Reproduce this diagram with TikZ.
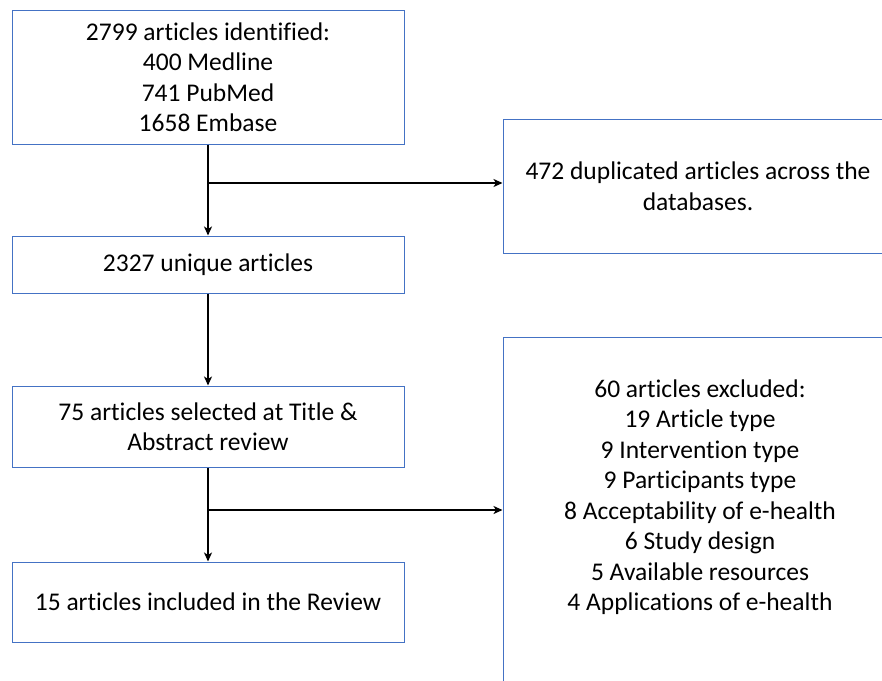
\documentclass[tikz,border=0pt]{standalone}
\usepackage{fontspec}
\setmainfont{Carlito}[Ligatures=NoCommon]
\usepackage{tikz}
\usetikzlibrary{arrows.meta}
\usetikzlibrary{calc}
\definecolor{boxblue}{RGB}{68,114,196}

\begin{document}
\begin{tikzpicture}[x=1pt,y=-1pt,
  box/.style={draw=boxblue,line width=1pt,minimum width=392pt,align=center,inner sep=0pt,
    font=\fontsize{25.5}{30.5}\selectfont},
  txt/.style={align=center,inner sep=0pt,font=\fontsize{25.5}{30.5}\selectfont},
  arr/.style={-{Stealth[length=9pt,width=8pt,inset=2.5pt]},line width=1.6pt}]
\clip (0,0) rectangle (882,680);
% left column
\node[box,minimum height=134pt] (ident) at (208,77) {2799 articles identified:\\400 Medline\\741 PubMed\\1658 Embase};
\node[box,minimum height=57pt] (uniq) at (208,264.5) {2327 unique articles};
\node[box,minimum height=81pt] (screen) at (208,426.5) {75 articles selected at Title \&\\Abstract review};
\node[box,minimum height=80pt] (incl) at (208,602) {15 articles included in the Review};
% right column
\node[box,minimum width=390pt,minimum height=134pt] (dupl) at (698,186) {472 duplicated articles across the\\databases.};
\node[box,minimum width=394pt,minimum height=370pt] (excl) at (700,522) {};
\node[txt] (exclt) at (700,497) {60 articles excluded:\\19 Article type\\9 Intervention type\\9 Participants type\\8 Acceptability of e-health\\6 Study design\\5 Available resources\\4 Applications of e-health};
% arrows
\coordinate (j1) at (207,183);
\coordinate (j2) at (207,510);
\draw[arr] (ident) -- (uniq);
\draw[arr] (uniq) -- (screen);
\draw[arr] (screen) -- (incl);
\draw[arr] (j1) -- (j1 -| dupl.west);
\draw[arr] (j2) -- (j2 -| excl.west);
\end{tikzpicture}
\end{document}
